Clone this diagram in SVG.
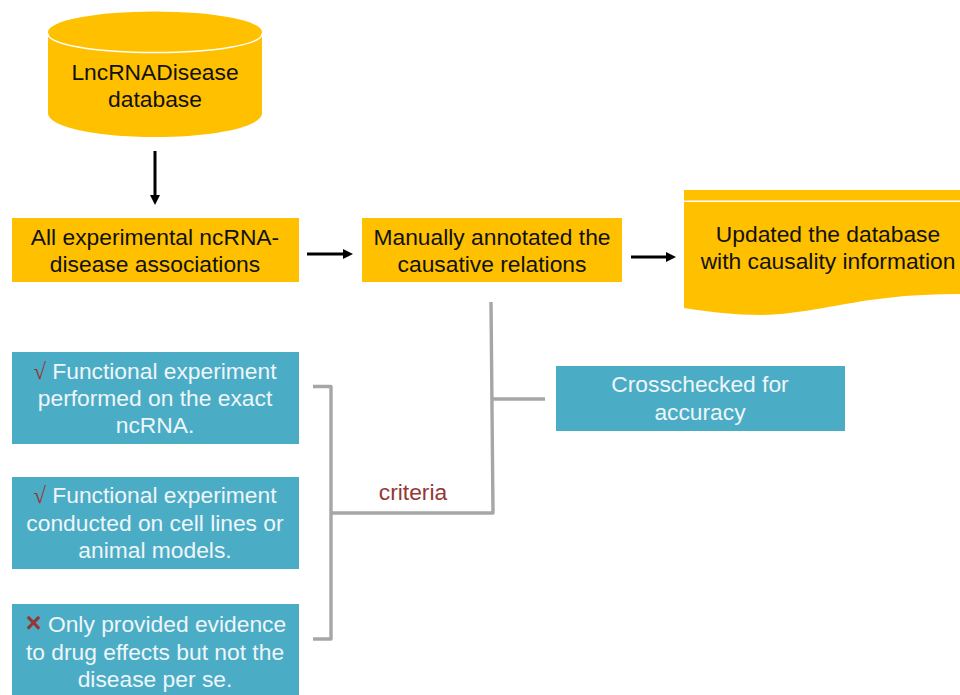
<svg xmlns="http://www.w3.org/2000/svg" width="960" height="695" viewBox="0 0 960 695">
<defs>
<marker id="ah" markerUnits="userSpaceOnUse" markerWidth="10" markerHeight="10" refX="4" refY="5" orient="auto"><path d="M0,0L10,5L0,10z" fill="#000"/></marker>
</defs>
<style>
text{font-family:"Liberation Sans",Arial,sans-serif;font-size:22.8px;text-anchor:middle}
.d{fill:#111}
.w{fill:#eef6f9}
.o{fill:#ffc000}
.b{fill:#4bacc6}
.g{fill:none;stroke:#a6a6a6;stroke-width:3.4;stroke-linejoin:round}
.a{fill:none;stroke:#000;stroke-width:3;marker-end:url(#ah)}
.r{fill:#953735}
.s{font-family:"Liberation Serif",serif}
.x{font-weight:bold;font-size:27px}
</style>
<rect width="960" height="695" fill="#fff"/>
<g id="connectors">
<path class="a" d="M155,151V199"/>
<path class="a" d="M307,254H347"/>
<path class="a" d="M631,257H670"/>
<path class="g" d="M313,386.500H331V639H313"/>
<path class="g" d="M331,513H493L491,302"/>
<path class="g" d="M492,399H545"/>
</g>
<g id="db">
<path class="o" d="M48,35V113C48,127 96,137 155,137C214,137 262,127 262,113V35z"/>
<ellipse cx="155" cy="32" rx="107" ry="20.500" class="o"/>
<path d="M48,35C52,45 96,52.500 155,52.500C214,52.500 258,45 262,35" fill="none" stroke="#fff" stroke-width="1.500"/>
<text class="d" x="155" y="80">LncRNADisease</text>
<text class="d" x="155" y="107">database</text>
</g>
<g id="all">
<rect class="o" x="12" y="218" width="287" height="64"/>
<text class="d" x="155" y="245">All experimental ncRNA-</text>
<text class="d" x="155" y="272">disease associations</text>
</g>
<g id="manual">
<rect class="o" x="362" y="218" width="260" height="64"/>
<text class="d" x="492" y="245">Manually annotated the</text>
<text class="d" x="492" y="272">causative relations</text>
</g>
<g id="updated">
<rect class="o" x="684" y="190" width="276" height="10.500"/>
<path class="o" d="M684,202H960V294C935,294 910,295 887,298C840,303 800,315 760,315C735,315 710,312 684,308z"/>
<text class="d" x="828" y="242">Updated the database</text>
<text class="d" x="828" y="269">with causality information</text>
</g>
<g id="crosscheck">
<rect class="b" x="556" y="366" width="289" height="65"/>
<text class="w" x="700" y="392">Crosschecked for</text>
<text class="w" x="700" y="420">accuracy</text>
</g>
<g id="c1">
<rect class="b" x="12" y="352" width="287" height="92"/>
<text class="w" x="155" y="379"><tspan class="r s">√</tspan> Functional experiment</text>
<text class="w" x="155" y="406">performed on the exact</text>
<text class="w" x="155" y="433">ncRNA.</text>
</g>
<g id="c2">
<rect class="b" x="12" y="477" width="287" height="92"/>
<text class="w" x="155" y="503"><tspan class="r s">√</tspan> Functional experiment</text>
<text class="w" x="155" y="531">conducted on cell lines or</text>
<text class="w" x="155" y="558">animal models.</text>
</g>
<g id="c3">
<rect class="b" x="12" y="604" width="287" height="91"/>
<text class="w" x="156" y="632"><tspan class="r x">×</tspan> Only provided evidence</text>
<text class="w" x="155" y="660">to drug effects but not the</text>
<text class="w" x="155" y="687">disease per se.</text>
</g>
<text class="r" x="413" y="500">criteria</text>
</svg>
